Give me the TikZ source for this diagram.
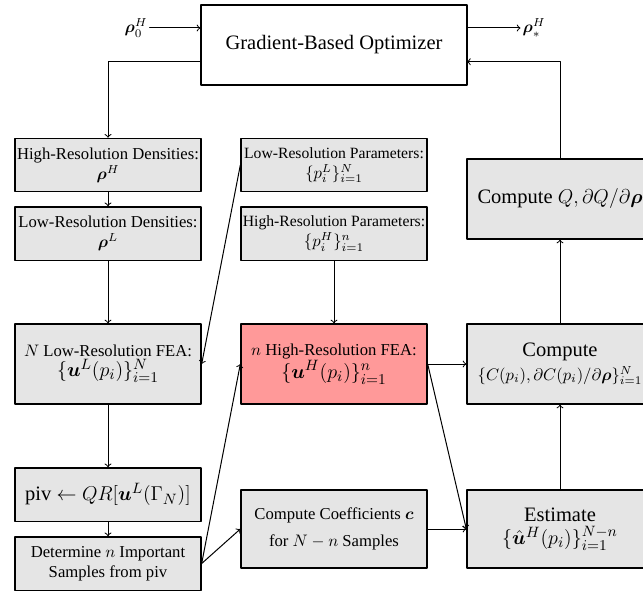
\documentclass[tikz,border=0pt]{standalone}
\usepackage{amsmath,bm}
\usepackage{fontspec}
\setmainfont{Liberation Serif}
\newcommand\bigtxt{\fontsize{12.3}{15}\selectfont}
\newcommand\bigmath{\fontsize{13.2}{16}\selectfont}
\newcommand\smalltxt{\fontsize{9.4}{11.5}\selectfont}
\tikzset{
  blk/.style={draw,line width=0.8pt,fill=black!10,inner sep=1pt,align=center,minimum width=111.6pt,minimum height=48pt},
  flat/.style={minimum height=32pt},
  wire/.style={->,line width=0.6pt}
}
\begin{document}
\begin{tikzpicture}[x=0.6pt,y=-0.6pt,line width=0.6pt,line cap=round,line join=round]
  \useasboundingbox (0,0) rectangle (643,594);
  \node[blk,fill=white,minimum width=159.6pt] (opt) at (334,45) {\bigtxt Gradient-Based Optimizer};
  \node[inner sep=1pt] (r0) at (136,28) {$\bm{\rho}_0^H$};
  \node[inner sep=1pt] (rs) at (534,28) {$\bm{\rho}_*^H$};
  \coordinate (fbl) at (201,61.7);
  \coordinate (fbr) at (467,61.7);
  \node[blk,flat] (hrd) at (108,165) {High-Resolution Densities:\\ $\bm{\rho}^H$};
  \node[blk,flat] (lrd) at (108,233.5) {Low-Resolution Densities:\\ $\bm{\rho}^L$};
  \node[blk] (lrfea) at (108,364) {$N$ Low-Resolution FEA:\\ \bigmath $\{\bm{u}^L(p_i)\}_{i=1}^N$};
  \node[blk,flat] (piv) at (108,494.5) {\bigtxt piv $\leftarrow QR[\bm{u}^L(\Gamma_N)]$};
  \node[blk,flat] (det) at (108,563.5) {Determine $n$ Important\\ Samples from piv};
  \node[blk,flat] (lrp) at (334,165) {\smalltxt Low-Resolution Parameters:\\ $\{p_i^L\}_{i=1}^N$};
  \node[blk,flat] (hrp) at (334,233.5) {\smalltxt High-Resolution Parameters:\\ $\{p_i^H\}_{i=1}^n$};
  \node[blk,fill=red!40] (hrfea) at (334,364) {$n$ High-Resolution FEA:\\ \bigmath $\{\bm{u}^H(p_i)\}_{i=1}^n$};
  \node[blk,minimum height=46.8pt] (coef) at (334,529) {Compute Coefficients $\bm{c}$\\[4pt] for $N-n$ Samples};
  \node[blk] (cq) at (560,199) {\bigtxt Compute $Q, \partial Q/\partial\bm{\rho}$};
  \node[blk] (comp) at (560,364) {\bigtxt Compute\\[2pt] \normalsize $\{C(p_i),\partial C(p_i)/\partial\bm{\rho}\}_{i=1}^N$};
  \node[blk,minimum height=46.8pt] (est) at (560,529) {\bigtxt Estimate\\[2pt] \bigmath $\{\hat{\bm{u}}^H(p_i)\}_{i=1}^{N-n}$};
  \draw[wire] (r0) -- (r0 -| opt.west);
  \draw[wire] (opt.east |- rs) -- (rs);
  \draw[wire] (fbl) -| (hrd.north);
  \draw[wire] (cq.north) |- (fbr);
  \draw[wire] (hrd) -- (lrd);
  \draw[wire] (lrd) -- (lrfea);
  \draw[wire] (lrfea) -- (piv);
  \draw[wire] (piv) -- (det);
  \draw[wire] (lrp.west) -- (lrfea.east);
  \draw[wire] (hrp) -- (hrfea);
  \draw[wire] (det.east) -- (hrfea.west);
  \draw[wire] (det.east) -- (coef.west);
  \draw[wire] (hrfea.east) -- (comp.west);
  \draw[wire] (hrfea.east) -- (est.west);
  \draw[wire] (coef) -- (est);
  \draw[wire] (est) -- (comp);
  \draw[wire] (comp) -- (cq);
\end{tikzpicture}
\end{document}
